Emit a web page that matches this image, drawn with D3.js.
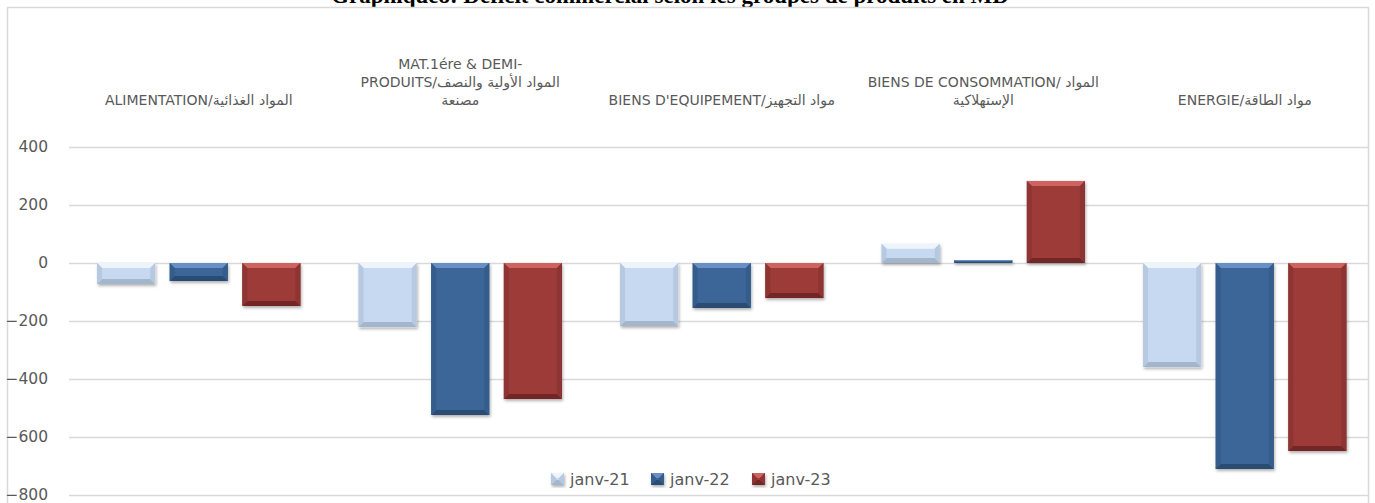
<!DOCTYPE html>
<html>
<head>
<meta charset="utf-8">
<style>
  body { margin: 0; background: #fff; }
  svg { display: block; }
  text { font-family: "DejaVu Sans", sans-serif; fill: #595959; }
</style>
</head>
<body>
<svg width="1375" height="503"></svg>
<script src="https://d3js.org/d3.v7.min.js"></script>
<script>

  // data
  var categories = ["ALIMENTATION", "MAT", "EQUIPEMENT", "CONSOMMATION", "ENERGIE"];
  var categoryLabels = [
    ["ALIMENTATION/المواد الغذائية"],
    ["MAT.1ére & DEMI-", "PRODUITS/المواد الأولية والنصف", "مصنعة"],
    ["BIENS D'EQUIPEMENT/مواد التجهيز"],
    ["BIENS DE CONSOMMATION/ المواد", "الإستهلاكية"],
    ["ENERGIE/مواد الطاقة"]
  ];
  var series = ["janv-21", "janv-22", "janv-23"];
  var janv21 = [-72, -221, -217, 66, -359];
  var janv22 = [-62, -524, -155, 10, -710];
  var janv23 = [-148, -469, -121, 283, -648];
  var yTicks = [400, 200, 0, -200, -400, -600, -800];
  var title = "Graphique8: Déficit commercial selon les groupes de produits en MD";

  var values = [janv21, janv22, janv23];
  var colors = {
    "janv-21": {base: "#c6d9f0", light: "#eef4fc", dark: "#a4b6cc", side: "#b6c9e1"},
    "janv-22": {base: "#3c6698", light: "#6790c6", dark: "#2b4b72", side: "#355d8c"},
    "janv-23": {base: "#9d3a38", light: "#cf6360", dark: "#722826", side: "#8d3432"}
  };

  var svg = d3.select("svg");

  var defs = svg.append("defs");
  var f = defs.append("filter").attr("id", "shadow")
    .attr("x", "-20%").attr("y", "-20%").attr("width", "140%").attr("height", "140%");
  f.append("feDropShadow").attr("dx", 1).attr("dy", 2).attr("stdDeviation", 1.5)
    .attr("flood-color", "#000").attr("flood-opacity", 0.3);

  var x0 = d3.scaleBand().domain(categories).range([68, 1375.5]);
  var x1 = d3.scaleBand().domain(series).range([0, x0.bandwidth()])
    .paddingInner(0.2).paddingOuter(0.4);
  var y = d3.scaleLinear().domain([-800, 400]).range([495, 147]);

  // title (cut off at the top in the original)
  svg.append("text")
    .attr("x", 670).attr("y", 3)
    .attr("text-anchor", "middle")
    .style("font-family", "'Liberation Serif', serif")
    .style("font-weight", "bold")
    .style("font-size", "23px")
    .style("fill", "#000")
    .text(title);

  // chart frame
  svg.append("rect")
    .attr("x", 7.5).attr("y", 7.5)
    .attr("width", 1361).attr("height", 600)
    .attr("fill", "none").attr("stroke", "#d9d9d9").attr("stroke-width", 1.5);

  // grid
  svg.append("g").selectAll("line").data(yTicks).join("line")
    .attr("x1", 69).attr("x2", 1368)
    .attr("y1", d => y(d) + 0.5).attr("y2", d => y(d) + 0.5)
    .attr("stroke", "#d9d9d9").attr("stroke-width", 1.3);

  // y axis
  var yAxis = svg.append("g")
    .attr("transform", "translate(48,0)")
    .call(d3.axisLeft(y).tickValues(yTicks).tickSize(0).tickPadding(0));
  yAxis.select(".domain").remove();
  yAxis.selectAll("text")
    .style("font-family", "'DejaVu Sans', sans-serif")
    .style("font-size", "15.5px")
    .attr("dy", "0.3em")
    .attr("fill", "#595959");

  // category labels on top, bottom-aligned
  var cat = svg.append("g").selectAll("text").data(categories).join("text")
    .attr("text-anchor", "middle")
    .attr("direction", "ltr")
    .style("font-size", "14px")
    .attr("x", d => x0(d) + x0.bandwidth() / 2);
  cat.each(function(d, i) {
    var lines = categoryLabels[i];
    var t = d3.select(this);
    lines.forEach(function(l, j) {
      t.append("tspan")
        .attr("x", x0(d) + x0.bandwidth() / 2)
        .attr("y", 105 - (lines.length - 1 - j) * 18)
        .text(l);
    });
  });

  function bevel(g, bx, by, bw, bh, c) {
    var b = Math.min(5, bh / 2, bw / 2);
    g.append("rect").attr("x", bx).attr("y", by).attr("width", bw).attr("height", bh)
      .attr("fill", c.base);
    if (bh < 1) return;
    var pts = function(a) { return a.map(p => p.join(",")).join(" "); };
    g.append("polygon").attr("fill", c.light)
      .attr("points", pts([[bx, by], [bx + bw, by], [bx + bw - b, by + b], [bx + b, by + b]]));
    g.append("polygon").attr("fill", c.dark)
      .attr("points", pts([[bx, by + bh], [bx + bw, by + bh], [bx + bw - b, by + bh - b], [bx + b, by + bh - b]]));
    g.append("polygon").attr("fill", c.side)
      .attr("points", pts([[bx, by], [bx + b, by + b], [bx + b, by + bh - b], [bx, by + bh]]));
    g.append("polygon").attr("fill", c.side)
      .attr("points", pts([[bx + bw, by], [bx + bw - b, by + b], [bx + bw - b, by + bh - b], [bx + bw, by + bh]]));
  }

  // bars
  var bars = svg.append("g").attr("filter", "url(#shadow)");
  categories.forEach(function(c, i) {
    series.forEach(function(s, k) {
      var v = values[k][i];
      var top = y(Math.max(0, v)), bottom = y(Math.min(0, v));
      var g = bars.append("g");
      bevel(g, x0(c) + x1(s), top, x1.bandwidth(), bottom - top, colors[s]);
    });
  });

  // legend
  var legendX = [551, 651, 752];
  var legend = svg.append("g").selectAll("g").data(series).join("g")
    .attr("transform", (d, i) => "translate(" + legendX[i] + ",473)");
  legend.each(function(d) {
    var g = d3.select(this).append("g").attr("filter", "url(#shadow)");
    bevel(g, 0, 0, 13, 12, colors[d]);
  });
  legend.append("text")
    .attr("x", 19).attr("y", 12)
    .style("font-size", "16px")
    .text(d => d);

</script>
</body>
</html>
